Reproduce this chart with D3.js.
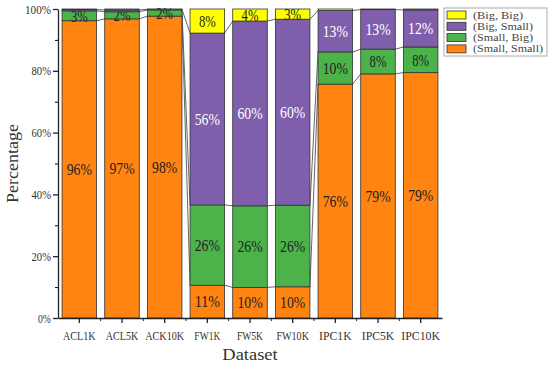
<!DOCTYPE html>
<html>
<head>
<meta charset="utf-8">
<script src="https://cdn.jsdelivr.net/npm/d3@7"></script>
<style>
  body { margin: 0; background: #fff; }
  svg text { fill: #222; }
</style>
</head>
<body>
<svg id="chart" width="550" height="367"></svg>
<script>
// values (percent of each dataset)
const datasets = ["ACL1K", "ACL5K", "ACK10K", "FW1K", "FW5K", "FW10K", "IPC1K", "IPC5K", "IPC10K"];
const smallSmall = [96.2, 96.8, 97.7, 10.6, 9.9, 10.1, 75.7, 79.0, 79.4];
const smallBig   = [3.2, 2.3, 2.0, 26.0, 26.4, 26.4, 10.4, 8.0, 8.3];
const bigSmall   = [0.4, 0.6, 0.2, 55.6, 59.8, 60.2, 13.4, 12.8, 12.0];
const bigBig     = [0.2, 0.3, 0.1, 7.8, 3.9, 3.3, 0.5, 0.2, 0.3];
const seriesNames = ["(Small, Small)", "(Small, Big)", "(Big, Small)", "(Big, Big)"];
const yTicks = [0, 20, 40, 60, 80, 100];

const colors = ["#FF8412", "#4CB24A", "#7F5EAC", "#FFFF00"];
const labelColors = ["#222", "#222", "#fff", "#222"];

const svg = d3.select("#chart");
const mLeft = 58, mRight = 442, mTop = 9, mBottom = 318;
const serif = "Liberation Serif, serif";

// the original font is a half-width monospace serif; squeeze serif text to that pitch
function pitch(sel, w) {
  sel.attr("textLength", function() { return this.textContent.length * w; })
    .attr("lengthAdjust", "spacingAndGlyphs");
}

const rows = datasets.map((d, i) => ({
  name: d, ss: smallSmall[i], sb: smallBig[i], bs: bigSmall[i], bb: bigBig[i]
}));
const keys = ["ss", "sb", "bs", "bb"];
const stacked = d3.stack().keys(keys)(rows);

const x = d3.scaleBand().domain(datasets).range([mLeft, mRight])
  .paddingInner(0.19).paddingOuter(0.095);
const y = d3.scaleLinear().domain([0, 100]).range([mBottom, mTop]);

// connector lines between neighbouring bars
const conn = svg.append("g");
for (let k = 0; k < keys.length - 1; k++) {
  for (let i = 0; i < datasets.length - 1; i++) {
    const a = stacked[k][i][1], b = stacked[k][i + 1][1];
    conn.append("line")
      .attr("x1", x(datasets[i]) + x.bandwidth()).attr("y1", y(a))
      .attr("x2", x(datasets[i + 1])).attr("y2", y(b))
      .attr("stroke", "#555").attr("stroke-width", 0.9);
  }
}

const layers = svg.append("g").selectAll("g").data(stacked).join("g")
  .attr("fill", (d, i) => colors[i]);

layers.selectAll("rect").data(d => d).join("rect")
  .attr("x", d => x(d.data.name))
  .attr("y", d => y(d[1]))
  .attr("width", x.bandwidth())
  .attr("height", d => y(d[0]) - y(d[1]))
  .attr("stroke", "#333").attr("stroke-width", 0.8);

layers.each(function(layer, li) {
  d3.select(this).selectAll("text").data(layer.filter(d => d[1] - d[0] >= 1.5)).join("text")
    .attr("x", d => x(d.data.name) + x.bandwidth() / 2)
    .attr("y", d => y((d[0] + d[1]) / 2))
    .attr("dy", "0.36em")
    .attr("text-anchor", "middle")
    .attr("font-family", serif)
    .attr("font-size", 16)
    .style("fill", labelColors[li])
    .text(d => Math.round(d[1] - d[0]) + "%")
    .call(pitch, 8.4);
});

// axes
const yAxis = svg.append("g").attr("transform", `translate(${mLeft},0)`)
  .call(d3.axisLeft(y).tickValues(yTicks).tickFormat(d => d + "%").tickSize(5).tickSizeOuter(0));
svg.append("g").attr("transform", `translate(${mLeft},0)`)
  .call(d3.axisLeft(y).tickValues(d3.range(10, 100, 20)).tickFormat("").tickSize(3).tickSizeOuter(0))
  .select(".domain").remove();

const xAxis = svg.append("g").attr("transform", `translate(0,${mBottom})`)
  .call(d3.axisBottom(x).tickSize(5).tickSizeOuter(0));
const minor = d3.range(1, datasets.length).map(i => mLeft + i * x.step());
svg.append("g").selectAll("line").data(minor).join("line")
  .attr("x1", d => d).attr("x2", d => d)
  .attr("y1", mBottom).attr("y2", mBottom + 3)
  .attr("stroke", "#222");

[yAxis, xAxis].forEach(g => {
  g.selectAll("path, line").attr("stroke", "#222").attr("stroke-width", 1.3);
  g.selectAll("text").attr("font-family", serif).attr("font-size", 13).style("fill", "#333")
    .call(pitch, 6.5);
});
xAxis.selectAll("text").attr("dy", "1.1em");
yAxis.selectAll("text").attr("x", -7);

svg.append("text")
  .attr("x", (mLeft + mRight) / 2).attr("y", 360)
  .attr("text-anchor", "middle")
  .attr("font-family", serif).attr("font-size", 16)
  .style("fill", "#333")
  .text("Dataset")
  .call(pitch, 7.9);

svg.append("text")
  .attr("transform", `translate(18,${(mTop + mBottom) / 2}) rotate(-90)`)
  .attr("text-anchor", "middle")
  .attr("font-family", serif).attr("font-size", 16)
  .style("fill", "#333")
  .text("Percentage")
  .call(pitch, 7.9);

// legend
const legend = svg.append("g").attr("transform", "translate(444,8)");
legend.append("rect").attr("width", 103).attr("height", 48)
  .attr("fill", "#fff").attr("stroke", "#aaa");
const order = [3, 2, 1, 0];
const item = legend.selectAll("g.item").data(order).join("g")
  .attr("class", "item")
  .attr("transform", (d, i) => `translate(3,${3 + i * 11.3})`);
item.append("rect").attr("width", 19).attr("height", 8)
  .attr("fill", d => colors[d]).attr("stroke", "#333").attr("stroke-width", 0.8);
item.append("text").attr("x", 26).attr("y", 4).attr("dy", "0.35em")
  .attr("font-family", serif).attr("font-size", 10).style("fill", "#444")
  .text(d => seriesNames[d])
  .call(pitch, 5);
</script>
</body>
</html>
